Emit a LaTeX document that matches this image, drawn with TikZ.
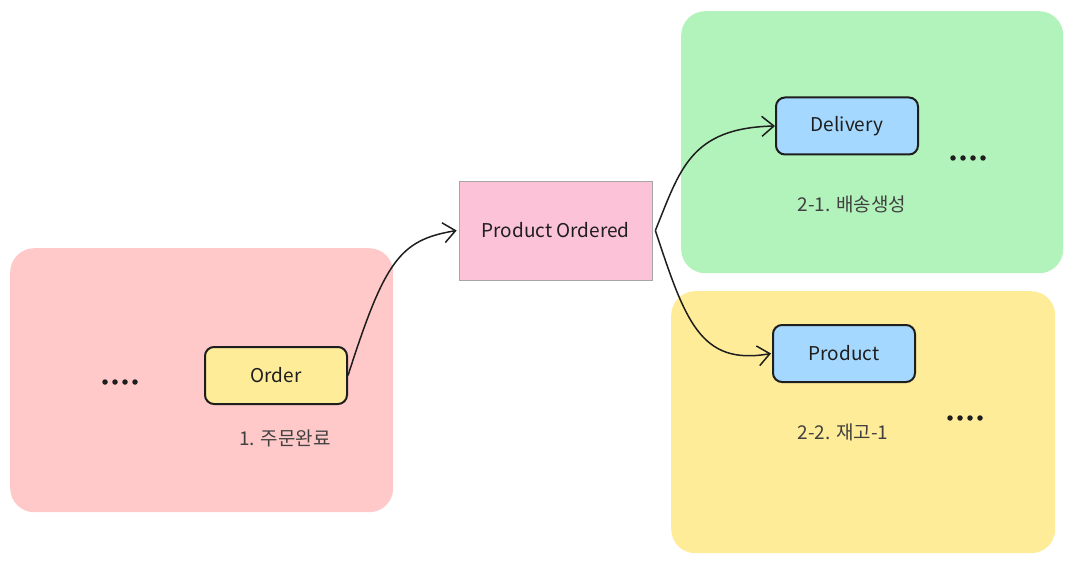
\documentclass[tikz,border=0pt]{standalone}
\usepackage{fontspec}
\setmainfont{Noto Sans CJK KR}
\usetikzlibrary{arrows.meta}
\definecolor{rgnpink}{HTML}{FFC9C9}
\definecolor{rgngreen}{HTML}{B2F2BB}
\definecolor{rgnyellow}{HTML}{FFEC99}
\definecolor{evtpink}{HTML}{FCC2D7}
\definecolor{aggblue}{HTML}{A5D8FF}
\definecolor{ink}{HTML}{1E1E1E}
\tikzset{
  region/.style={rounded corners=24pt, draw=none, inner sep=0pt, anchor=north west},
  agg/.style={draw=ink, line width=2pt, rounded corners=9pt, minimum width=142pt, minimum height=57pt, inner sep=0pt, font=\fontsize{19}{19}\selectfont, text=ink},
  evt/.style={draw=gray!70, line width=0.7pt, fill=evtpink, minimum width=193pt, minimum height=99pt, inner sep=0pt, font=\fontsize{19}{19}\selectfont, text=ink},
  lbl/.style={font=\fontsize{19}{19}\selectfont, text=ink!85},
  conn/.style={draw=ink, line width=1.5pt, -{Straight Barb[length=12pt,width=20pt,line width=1.5pt]}},
  dot/.style={circle, fill=ink, inner sep=0pt, minimum size=5.5pt}
}
\begin{document}
\begin{tikzpicture}[x=1pt,y=-1pt]
\useasboundingbox (0,0) rectangle (1074,564);
% regions
\node[region, fill=rgnpink, minimum width=383pt, minimum height=264pt] (rA) at (10,248) {};
\node[region, fill=rgngreen, minimum width=382pt, minimum height=262pt] (rB) at (681,11) {};
\node[region, fill=rgnyellow, minimum width=384pt, minimum height=262pt] (rC) at (671,291) {};
% nodes
\node[agg, fill=rgnyellow] (order) at (276,375.5) {Order};
\node[evt] (po) at (555.5,230.5) {Product Ordered};
\node[agg, fill=aggblue] (deliv) at (847,126) {Delivery};
\node[agg, fill=aggblue] (prod) at (844,353.5) {Product};
% labels
\node[lbl] (l1) at (285,438) {1. 주문완료};
\node[lbl] (l2) at (852,204) {2-1. 배송생성};
\node[lbl] (l3) at (843,432) {2-2. 재고-1};
% dots
\foreach \n/\cx/\cy in {a/120/382, b/968/158, c/965/418}{
  \foreach \i in {0,1,2,3}{
    \node[dot] (d\n\i) at (\cx-15+\i*10,\cy) {};
  }
}
% connectors
\draw[conn] (order.east) .. controls (385,260) and (400,240) .. ([xshift=-2pt]po.west);
\draw[conn] ([xshift=3pt]po.east) .. controls (680,170) and (690,128) .. (deliv.west);
\draw[conn] ([xshift=3pt]po.east) .. controls (685,320) and (700,366) .. ([xshift=-1pt]prod.west);
\end{tikzpicture}
\end{document}
